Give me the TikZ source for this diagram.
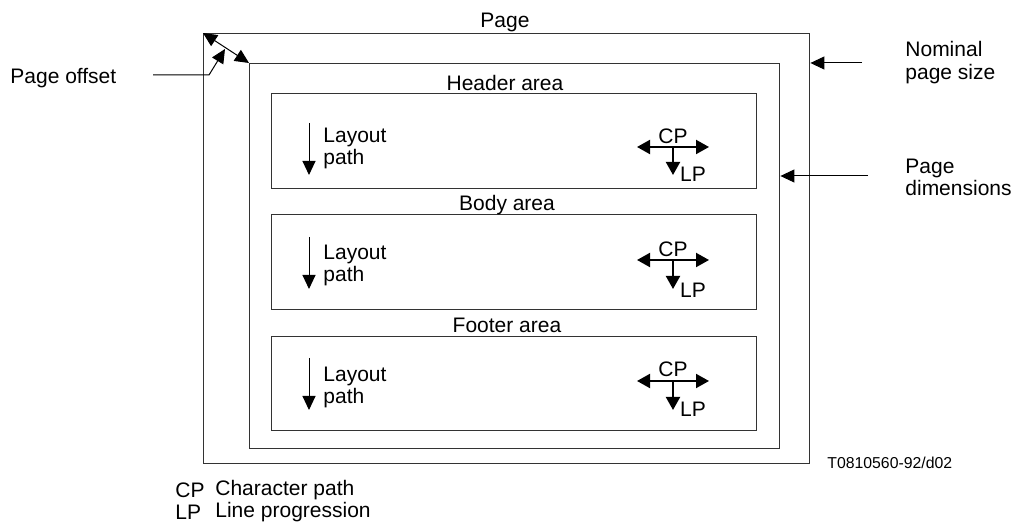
\documentclass[tikz,border=0pt]{standalone}
\usepackage{fontspec}
\setmainfont{Liberation Sans}
\usetikzlibrary{arrows.meta}
\newcommand\diagfont{\fontsize{10.5}{11.2}\selectfont}
\newcommand\smallfont{\fontsize{7.9}{9}\selectfont}

\begin{document}
\begin{tikzpicture}[x=0.5pt, y=-0.5pt,
		every node/.style={font=\diagfont, inner sep=0pt},
		box/.style={draw=black!80, line width=0.7pt, anchor=north west},
		thin tip/.style={line width=0.5pt, -{Triangle[length=7pt,width=6.5pt]}},
		bold tip/.style={line width=1pt, {Triangle[length=6.5pt,width=7pt]}-{Triangle[length=6.5pt,width=7pt]}},
		down tip/.style={line width=1pt, -{Triangle[length=6.5pt,width=7pt]}}]
			%%%%% START %%%%%
			\useasboundingbox (0, 0) rectangle (1017, 528);
			
			\node[box, minimum width=303pt, minimum height=215pt] (page) at (203, 33) {};
			\node[box, minimum width=265pt, minimum height=192.5pt] (dims) at (249, 63) {};
			
			\node[box, minimum width=242.5pt, minimum height=47.5pt] (header) at (271, 93) {};
			\node[box, minimum width=242.5pt, minimum height=47.5pt] (body) at (271, 214) {};
			\node[box, minimum width=242.5pt, minimum height=47pt] (footer) at (271, 336) {};
			
			\node (pagelbl) at (505, 22) {Page};
			\node (headerlbl) at (505, 83) {Header area};
			\node (bodylbl) at (507, 205) {Body area};
			\node (footerlbl) at (507, 325) {Footer area};
			
			% side labels
			\node[anchor=west, align=left] (nominal) at (905, 62.5) {Nominal\\page size};
			\node[anchor=west, align=left] (pagedims) at (905, 177.5) {Page\\dimensions};
			\node[anchor=west] (offset) at (10, 78) {Page offset};
			
			\coordinate (nomtail) at (862, 63);
			\draw[thin tip] (nomtail) -- (nomtail -| page.east);
			\coordinate (dimtail) at (868, 176);
			\draw[thin tip] (dimtail) -- (dimtail -| dims.east);
			
			\draw[line width=0.5pt, {Triangle[length=7pt,width=6.5pt]}-{Triangle[length=7pt,width=6.5pt]}] (page.north west) -- (dims.north west);
			\coordinate (offtail) at (153, 75);
			\coordinate (offknee) at (209, 75);
			\coordinate (offtip) at (225, 49);
			\draw[thin tip] (offtail) -- (offknee) -- (offtip);
			
			% header area
			\coordinate (hlay) at (309, 123);
			\draw[thin tip] (hlay) -- ++(0, 52);
			\node[anchor=west, align=left] (hlaylbl) at (323, 148.5) {Layout\\path};
			\coordinate (hcpl) at (637, 147);
			\coordinate (hcpr) at (709, 147);
			\coordinate (hcpm) at (673, 147);
			\draw[bold tip] (hcpl) -- (hcpr);
			\draw[down tip] (hcpm) -- ++(0, 28);
			\node (hcp) at (673, 136) {CP};
			\node (hlp) at (693, 174) {LP};
			
			% body area
			\coordinate (blay) at (309, 237);
			\draw[thin tip] (blay) -- ++(0, 52);
			\node[anchor=west, align=left] (blaylbl) at (323, 265.5) {Layout\\path};
			\coordinate (bcpl) at (637, 260);
			\coordinate (bcpr) at (709, 260);
			\coordinate (bcpm) at (673, 260);
			\draw[bold tip] (bcpl) -- (bcpr);
			\draw[down tip] (bcpm) -- ++(0, 29);
			\node (bcp) at (673, 249) {CP};
			\node (blp) at (693, 290) {LP};
			
			% footer area
			\coordinate (flay) at (309, 358);
			\draw[thin tip] (flay) -- ++(0, 52);
			\node[anchor=west, align=left] (flaylbl) at (323, 387.5) {Layout\\path};
			\coordinate (fcpl) at (637, 381);
			\coordinate (fcpr) at (709, 381);
			\coordinate (fcpm) at (673, 381);
			\draw[bold tip] (fcpl) -- (fcpr);
			\draw[down tip] (fcpm) -- ++(0, 29);
			\node (fcp) at (673, 369) {CP};
			\node (flp) at (693, 409) {LP};
			
			% key
			\node[font=\smallfont, anchor=west] (code) at (827, 463) {T0810560-92/d02};
			\node[anchor=west] (cpkey) at (175, 490) {CP};
			\node[anchor=west] (cptext) at (215, 490) {Character path};
			\node[anchor=west] (lpkey) at (175, 512) {LP};
			\node[anchor=west] (lptext) at (215, 512) {Line progression};
			
			%%%%% END %%%%%
		\end{tikzpicture}
\end{document}
